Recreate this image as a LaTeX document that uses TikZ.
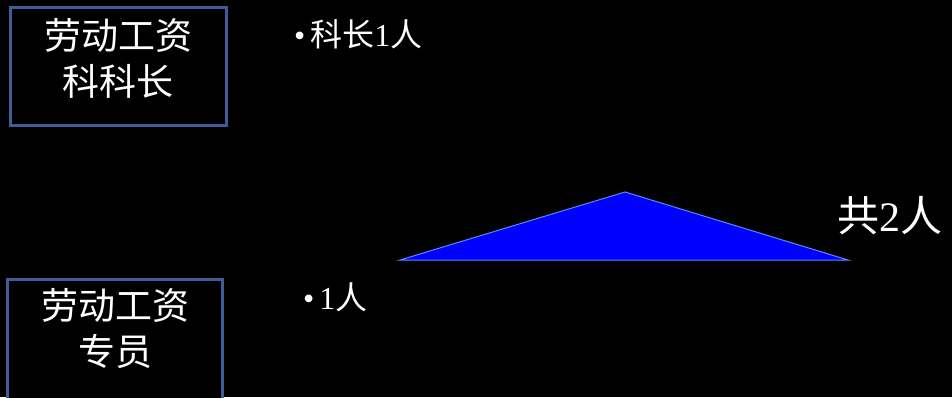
\documentclass[tikz,border=0pt]{standalone}
\usepackage{fontspec}
\newfontfamily\cjk{Noto Sans CJK SC}
\newfontfamily\lat{Liberation Serif}
\definecolor{boxedge}{RGB}{63,93,150}
\definecolor{triedge}{RGB}{80,140,255}
\begin{document}
\begin{tikzpicture}[x=1pt,y=-1pt,
  titlebox/.style={draw=boxedge,line width=3pt,fill=black},
  label/.style={text=white,font=\cjk\fontsize{37}{46}\selectfont,align=center,inner sep=0pt},
  bullet/.style={text=white,font=\cjk\fontsize{32}{34}\selectfont,anchor=west,inner sep=0pt}]
\fill[black] (0,0) rectangle (952,397);
\useasboundingbox (0,0) rectangle (952,397);
\begin{scope}
\clip (0,0) rectangle (952,397);
\draw[titlebox] (10,7) rectangle (226,125);
\draw[titlebox] (7,279) rectangle (222,410);
\end{scope}
\node[label] (t1) at (118,58) {劳动工资\\科科长};
\node[label] (t2) at (115,329) {劳动工资\\专员};
\node[bullet] (b1) at (294,34) {{\lat•}\hspace{5pt}科长{\lat 1}人};
\node[bullet] (b2) at (303,297) {{\lat•}\hspace{5pt}{\lat 1}人};
\coordinate (pl) at (400,260);
\coordinate (pt) at (625,192);
\coordinate (pr) at (848,260);
\draw[fill=blue,draw=triedge,line width=1pt,line join=miter] (pl) -- (pt) -- (pr) -- cycle;
\node[text=white,font=\cjk\fontsize{42}{44}\selectfont,anchor=west,inner sep=0pt] (tot) at (837,216) {共{\lat 2}人};
\end{tikzpicture}
\end{document}
